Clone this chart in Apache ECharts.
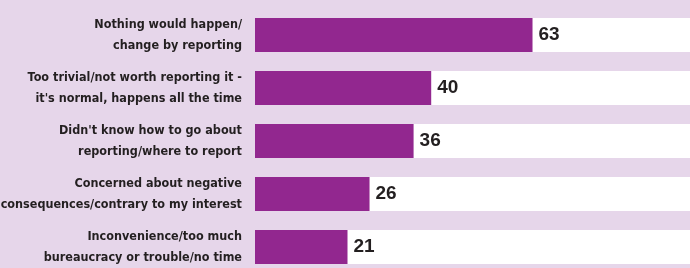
<!DOCTYPE html>
<html>
<head>
<meta charset="utf-8">
<script src="https://cdn.jsdelivr.net/npm/echarts@6/dist/echarts.min.js"></script>
<style>
  html, body { margin: 0; padding: 0; background: #e6d6ea; }
  #chart { width: 690px; height: 268px; }
</style>
</head>
<body>
<div id="chart"></div>
<script>
var categories = [
    'Nothing would happen/\nchange by reporting',
    'Too trivial/not worth reporting it -\nit\'s normal, happens all the time',
    'Didn\'t know how to go about\nreporting/where to report',
    'Concerned about negative\nconsequences/contrary to my interest',
    'Inconvenience/too much\nbureaucracy or trouble/no time'
];
var values = [63, 40, 36, 26, 21];

var chart = echarts.init(document.getElementById('chart'));
var option = {
    backgroundColor: '#e6d6ea',
    animation: false,
    grid: {
        left: 255,
        right: 0,
        top: 8.5,
        height: 265,
        containLabel: false,
        outerBoundsMode: 'none'
    },
    xAxis: {
        type: 'value',
        min: 0,
        max: 98.75,
        show: false
    },
    yAxis: {
        type: 'category',
        inverse: true,
        data: categories,
        axisLine: { show: false },
        axisTick: { show: false },
        axisLabel: {
            margin: 13,
            color: '#231f20',
            fontFamily: 'DejaVu Sans Condensed',
            fontWeight: 'bold',
            fontSize: 12.5,
            lineHeight: 21,
            align: 'right',
            padding: [4, 0, 0, 0]
        }
    },
    series: [{
        type: 'bar',
        data: values,
        barWidth: 34,
        itemStyle: { color: '#92278f' },
        showBackground: true,
        backgroundStyle: { color: '#ffffff' },
        label: {
            show: true,
            position: 'right',
            distance: 6,
            color: '#231f20',
            fontFamily: 'Liberation Sans',
            fontWeight: 'bold',
            fontSize: 19
        }
    }]
};
chart.setOption(option);
</script>
</body>
</html>
